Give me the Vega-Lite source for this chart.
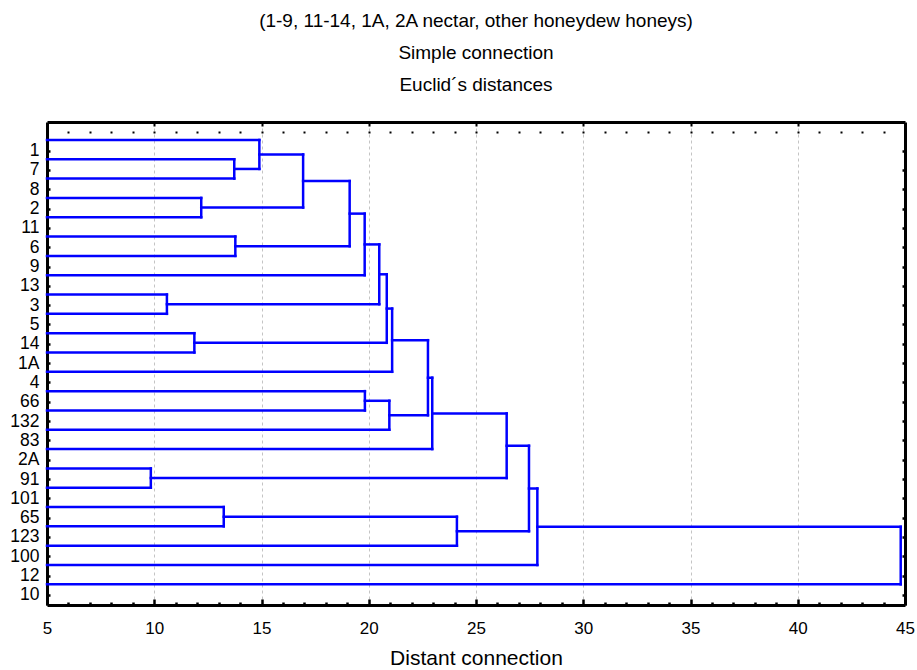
{
  "$schema": "https://vega.github.io/schema/vega-lite/v6.json",
  "width": 858,
  "height": 483,
  "autosize": {"type": "none"},
  "padding": {"left": 47, "top": 122, "right": 12, "bottom": 65},
  "background": "white",
  "title": {
    "text": ["(1-9, 11-14, 1A, 2A nectar, other honeydew honeys)", "Simple connection", "Euclid´s distances"],
    "font": "Liberation Sans",
    "fontSize": 19,
    "fontWeight": "normal",
    "color": "#000000",
    "lineHeight": 32,
    "anchor": "middle",
    "offset": 26
  },
  "config": {
    "view": {"stroke": null},
    "axis": {"labelFont": "Liberation Sans", "titleFont": "Liberation Sans", "labelColor": "#000000", "titleColor": "#000000"}
  },
  "datasets": {
    "horizontal": [
      {"d_from": 5, "d_to": 14.90, "pos": 0},
      {"d_from": 5, "d_to": 13.73, "pos": 1},
      {"d_from": 5, "d_to": 13.73, "pos": 2},
      {"d_from": 5, "d_to": 12.19, "pos": 3},
      {"d_from": 5, "d_to": 12.19, "pos": 4},
      {"d_from": 5, "d_to": 13.78, "pos": 5},
      {"d_from": 5, "d_to": 13.78, "pos": 6},
      {"d_from": 5, "d_to": 19.81, "pos": 7},
      {"d_from": 5, "d_to": 10.59, "pos": 8},
      {"d_from": 5, "d_to": 10.59, "pos": 9},
      {"d_from": 5, "d_to": 11.87, "pos": 10},
      {"d_from": 5, "d_to": 11.87, "pos": 11},
      {"d_from": 5, "d_to": 21.09, "pos": 12},
      {"d_from": 5, "d_to": 19.82, "pos": 13},
      {"d_from": 5, "d_to": 19.82, "pos": 14},
      {"d_from": 5, "d_to": 20.96, "pos": 15},
      {"d_from": 5, "d_to": 22.96, "pos": 16},
      {"d_from": 5, "d_to": 9.84, "pos": 17},
      {"d_from": 5, "d_to": 9.84, "pos": 18},
      {"d_from": 5, "d_to": 13.24, "pos": 19},
      {"d_from": 5, "d_to": 13.24, "pos": 20},
      {"d_from": 5, "d_to": 24.11, "pos": 21},
      {"d_from": 5, "d_to": 27.86, "pos": 22},
      {"d_from": 5, "d_to": 44.8, "pos": 23},
      {"d_from": 13.73, "d_to": 14.90, "pos": 1.5},
      {"d_from": 14.90, "d_to": 16.94, "pos": 0.75},
      {"d_from": 12.19, "d_to": 16.94, "pos": 3.5},
      {"d_from": 16.94, "d_to": 19.11, "pos": 2.125},
      {"d_from": 13.78, "d_to": 19.11, "pos": 5.5},
      {"d_from": 19.11, "d_to": 19.81, "pos": 3.8125},
      {"d_from": 19.81, "d_to": 20.49, "pos": 5.406},
      {"d_from": 10.59, "d_to": 20.49, "pos": 8.5},
      {"d_from": 20.49, "d_to": 20.84, "pos": 6.953},
      {"d_from": 11.87, "d_to": 20.84, "pos": 10.5},
      {"d_from": 20.84, "d_to": 21.09, "pos": 8.727},
      {"d_from": 21.09, "d_to": 22.76, "pos": 10.363},
      {"d_from": 19.82, "d_to": 20.96, "pos": 13.5},
      {"d_from": 20.96, "d_to": 22.76, "pos": 14.25},
      {"d_from": 22.76, "d_to": 22.96, "pos": 12.307},
      {"d_from": 22.96, "d_to": 26.43, "pos": 14.153},
      {"d_from": 9.84, "d_to": 26.43, "pos": 17.5},
      {"d_from": 26.43, "d_to": 27.47, "pos": 15.827},
      {"d_from": 13.24, "d_to": 24.11, "pos": 19.5},
      {"d_from": 24.11, "d_to": 27.47, "pos": 20.25},
      {"d_from": 27.47, "d_to": 27.86, "pos": 18.04},
      {"d_from": 27.86, "d_to": 44.8, "pos": 20.02}
    ],
    "vertical": [
      {"d": 13.73, "pos_from": 1, "pos_to": 2},
      {"d": 14.90, "pos_from": 0, "pos_to": 1.5},
      {"d": 12.19, "pos_from": 3, "pos_to": 4},
      {"d": 16.94, "pos_from": 0.75, "pos_to": 3.5},
      {"d": 13.78, "pos_from": 5, "pos_to": 6},
      {"d": 19.11, "pos_from": 2.125, "pos_to": 5.5},
      {"d": 19.81, "pos_from": 3.8125, "pos_to": 7},
      {"d": 10.59, "pos_from": 8, "pos_to": 9},
      {"d": 20.49, "pos_from": 5.406, "pos_to": 8.5},
      {"d": 11.87, "pos_from": 10, "pos_to": 11},
      {"d": 20.84, "pos_from": 6.953, "pos_to": 10.5},
      {"d": 21.09, "pos_from": 8.727, "pos_to": 12},
      {"d": 19.82, "pos_from": 13, "pos_to": 14},
      {"d": 20.96, "pos_from": 13.5, "pos_to": 15},
      {"d": 22.76, "pos_from": 10.363, "pos_to": 14.25},
      {"d": 22.96, "pos_from": 12.307, "pos_to": 16},
      {"d": 9.84, "pos_from": 17, "pos_to": 18},
      {"d": 26.43, "pos_from": 14.153, "pos_to": 17.5},
      {"d": 13.24, "pos_from": 19, "pos_to": 20},
      {"d": 24.11, "pos_from": 19.5, "pos_to": 21},
      {"d": 27.47, "pos_from": 15.827, "pos_to": 20.25},
      {"d": 27.86, "pos_from": 18.04, "pos_to": 22},
      {"d": 44.8, "pos_from": 20.02, "pos_to": 23}
    ]
  },
  "layer": [
    {
      "data": {"name": "horizontal"},
      "mark": {"type": "rule", "color": "#0000ff", "strokeWidth": 2.5, "strokeCap": "square"},
      "encoding": {
        "x": {
          "field": "d_from", "type": "quantitative",
          "scale": {"domain": [5, 45], "nice": false, "zero": false},
          "axis": {
            "orient": "bottom",
            "title": "Distant connection",
            "titleFontSize": 21,
            "titleFontWeight": "normal",
            "titlePadding": 8,
            "values": [5,6,7,8,9,10,11,12,13,14,15,16,17,18,19,20,21,22,23,24,25,26,27,28,29,30,31,32,33,34,35,36,37,38,39,40,41,42,43,44,45],
            "labelExpr": "datum.value % 5 === 0 ? datum.label : ''",
            "labelFontSize": 17,
            "labelPadding": 21,
            "labelFlush": false,
            "labelOverlap": false,
            "domainColor": "#000000",
            "domainWidth": 3,
            "tickColor": "#000000",
            "tickWidth": 2.5,
            "tickSize": {"condition": {"test": "datum.value % 5 === 0", "value": -6}, "value": -3},
            "grid": true,
            "gridColor": "#c4c4c4",
            "gridDash": [3, 3],
            "gridWidth": 1,
            "gridOpacity": {"condition": {"test": "datum.value % 5 === 0 && datum.value > 5 && datum.value < 45", "value": 1}, "value": 0}
          }
        },
        "x2": {"field": "d_to"},
        "y": {
          "field": "pos", "type": "quantitative",
          "scale": {"domain": [-0.93, 24.07], "nice": false, "zero": false, "reverse": true},
          "axis": {
            "orient": "left",
            "title": null,
            "grid": false,
            "values": [0.55,1.55,2.55,3.55,4.55,5.55,6.55,7.55,8.55,9.55,10.55,11.55,12.55,13.55,14.55,15.55,16.55,17.55,18.55,19.55,20.55,21.55,22.55,23.55],
            "labelExpr": "['1','7','8','2','11','6','9','13','3','5','14','1A','4','66','132','83','2A','91','101','65','123','100','12','10'][floor(datum.value)]",
            "labelFontSize": 17.5,
            "labelPadding": 11,
            "labelOverlap": false,
            "domainColor": "#000000",
            "domainWidth": 3,
            "tickColor": "#000000",
            "tickWidth": 2.5,
            "tickSize": -3
          }
        }
      }
    },
    {
      "data": {"name": "vertical"},
      "mark": {"type": "rule", "color": "#0000ff", "strokeWidth": 2.5, "strokeCap": "square"},
      "encoding": {
        "x": {
          "field": "d", "type": "quantitative",
          "axis": {
            "orient": "top",
            "title": null,
            "labels": false,
            "grid": false,
            "values": [6,7,8,9,10,11,12,13,14,15,16,17,18,19,20,21,22,23,24,25,26,27,28,29,30,31,32,33,34,35,36,37,38,39,40,41,42,43,44],
            "domainColor": "#000000",
            "domainWidth": 3,
            "tickColor": "#000000",
            "tickWidth": 2,
            "tickSize": -11,
            "tickDash": {"condition": {"test": "datum.value % 5 === 0", "value": [4, 5, 2, 20]}, "value": [0, 9, 2, 20]}
          }
        },
        "y": {
          "field": "pos_from", "type": "quantitative",
          "axis": {
            "orient": "right",
            "title": null,
            "labels": false,
            "grid": false,
            "values": [0.55,1.55,2.55,3.55,4.55,5.55,6.55,7.55,8.55,9.55,10.55,11.55,12.55,13.55,14.55,15.55,16.55,17.55,18.55,19.55,20.55,21.55,22.55,23.55],
            "domainColor": "#000000",
            "domainWidth": 3,
            "tickColor": "#000000",
            "tickWidth": 2.5,
            "tickSize": -3
          }
        },
        "y2": {"field": "pos_to"}
      }
    }
  ],
  "resolve": {"scale": {"x": "shared", "y": "shared"}, "axis": {"x": "independent", "y": "independent"}}
}
